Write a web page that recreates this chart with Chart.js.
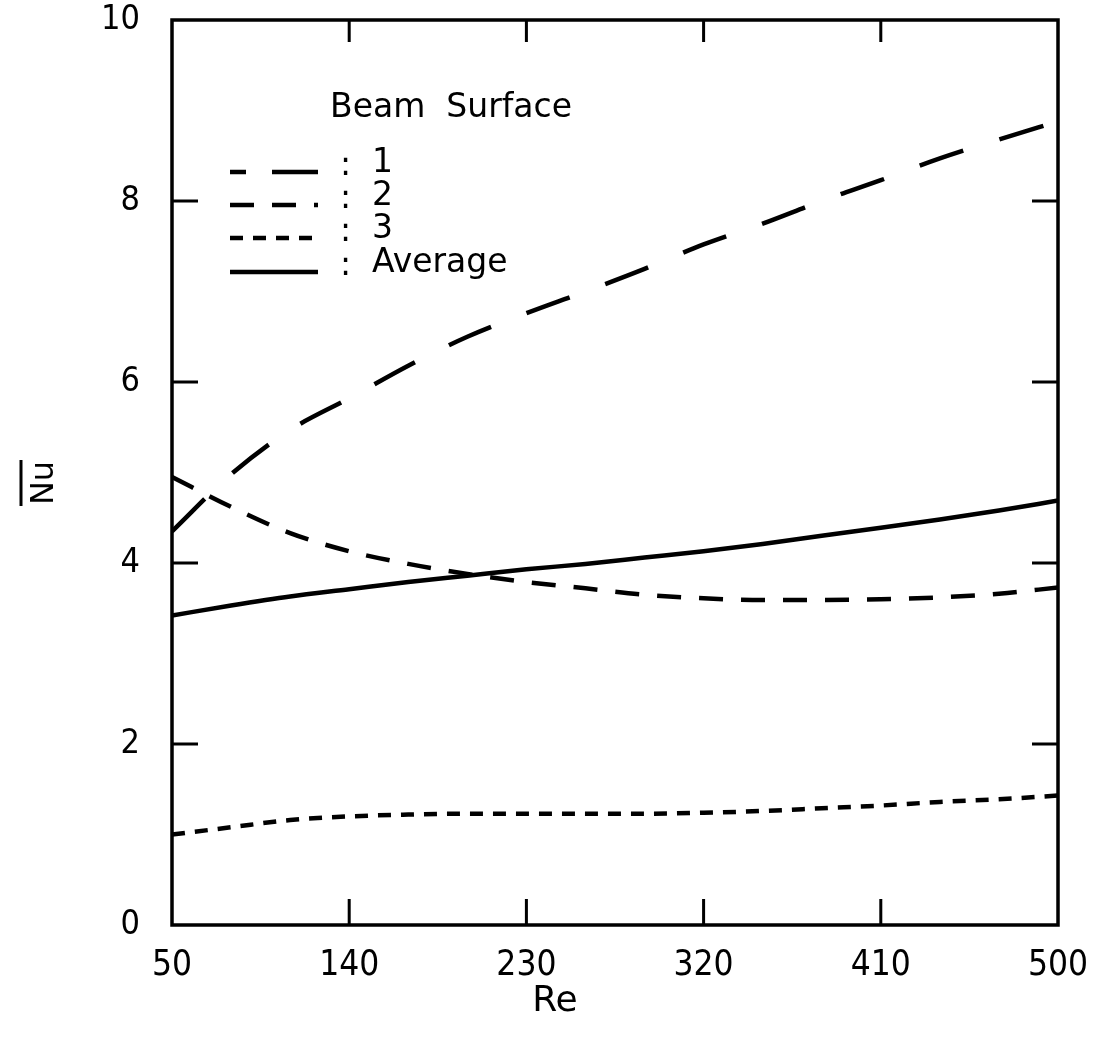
<!DOCTYPE html>
<html>
<head>
<meta charset="utf-8">
<title>Nu vs Re</title>
<script src="https://cdn.jsdelivr.net/npm/chart.js@4.4.0/dist/chart.umd.min.js"></script>
<style>
  html, body { margin: 0; padding: 0; background: #fff; }
  #wrap { width: 1111px; height: 1047px; }
</style>
</head>
<body>
<div id="wrap"><canvas id="nuChart" width="1111" height="1047"></canvas></div>
<script>
// Reynolds numbers where the curves were sampled
const re = [50, 80, 110, 140, 170, 200, 230, 260, 290, 320, 350, 380, 410, 440, 470, 500];

// mean Nusselt number on each beam surface
const nuSurface1 = [4.35, 4.98, 5.47, 5.82, 6.18, 6.5, 6.76, 7.0, 7.25, 7.52, 7.75, 8.0, 8.23, 8.47, 8.68, 8.88];
const nuSurface2 = [4.95, 4.62, 4.33, 4.13, 3.99, 3.88, 3.79, 3.72, 3.65, 3.61, 3.59, 3.59, 3.6, 3.62, 3.66, 3.73];
const nuSurface3 = [1.0, 1.08, 1.16, 1.2, 1.22, 1.23, 1.23, 1.23, 1.23, 1.24, 1.26, 1.29, 1.32, 1.36, 1.39, 1.43];
const nuAverage  = [3.42, 3.53, 3.63, 3.71, 3.79, 3.86, 3.93, 3.99, 4.06, 4.13, 4.21, 4.3, 4.39, 4.48, 4.58, 4.69];

const reTicks = [50, 140, 230, 320, 410, 500];
const nuTicks = [0, 2, 4, 6, 8, 10];

const legendLabels = ["1", "2", "3", "Average"];
const dashes = [[46, 38], [24, 18], [13, 10], []];

const tickFamily = "'DejaVu Sans Condensed', 'DejaVu Sans', sans-serif";
const textFont = "33px 'DejaVu Sans', sans-serif";

function pts(arr) {
  return re.map((x, i) => ({ x: x, y: arr[i] }));
}

function lineSet(label, arr, dash) {
  return {
    label: label,
    data: pts(arr),
    borderColor: "#000",
    borderWidth: 4.5,
    borderDash: dash,
    pointRadius: 0,
    cubicInterpolationMode: "monotone",
    fill: false
  };
}

// keep the plot box fixed no matter how far the end labels stick out
function fixPadding(s) {
  s.paddingTop = 0;
  s.paddingBottom = 0;
  s.paddingLeft = 0;
  s.paddingRight = 0;
}

// frame, inward ticks, legend and axis titles
const decor = {
  id: "decor",
  afterDatasetsDraw(chart) {
    const ctx = chart.ctx;
    const a = chart.chartArea;
    const xs = chart.scales.x;
    const ys = chart.scales.y;
    ctx.save();
    ctx.strokeStyle = "#000";
    ctx.fillStyle = "#000";
    ctx.lineCap = "butt";

    // box
    ctx.lineWidth = 3.5;
    ctx.setLineDash([]);
    ctx.strokeRect(a.left, a.top, a.right - a.left, a.bottom - a.top);

    // ticks pointing into the plot
    ctx.lineWidth = 3;
    ctx.beginPath();
    reTicks.slice(1, -1).forEach(v => {
      const px = xs.getPixelForValue(v);
      ctx.moveTo(px, a.bottom); ctx.lineTo(px, a.bottom - 26);
      ctx.moveTo(px, a.top); ctx.lineTo(px, a.top + 22);
    });
    nuTicks.slice(1, -1).forEach(v => {
      const py = ys.getPixelForValue(v);
      ctx.moveTo(a.left, py); ctx.lineTo(a.left + 26, py);
      ctx.moveTo(a.right, py); ctx.lineTo(a.right - 26, py);
    });
    ctx.stroke();

    // legend
    ctx.font = textFont;
    ctx.textBaseline = "middle";
    ctx.textAlign = "left";
    ctx.fillText("Beam  Surface", 330, 108);
    const rowY = [172, 205, 238, 272];
    legendLabels.forEach((lab, i) => {
      ctx.lineWidth = 4.5;
      ctx.setLineDash(i === 0 ? [16, 26, 50, 10] : dashes[i]);
      ctx.beginPath();
      ctx.moveTo(230, rowY[i]);
      ctx.lineTo(318, rowY[i]);
      ctx.stroke();
      ctx.setLineDash([]);
      ctx.fillText(":", 340, rowY[i] - 6);
      ctx.fillText(lab, 372, rowY[i] - 9);
    });

    // x title
    ctx.font = "36px 'DejaVu Sans', sans-serif";
    ctx.textAlign = "center";
    ctx.fillText("Re", 555, 1002);

    // y title, rotated, with overbar
    ctx.font = "32px 'DejaVu Sans', sans-serif";
    ctx.translate(45, 483);
    ctx.rotate(-Math.PI / 2);
    ctx.fillText("Nu", 0, 0);
    ctx.lineWidth = 3;
    ctx.beginPath();
    ctx.moveTo(-23, -24);
    ctx.lineTo(23, -24);
    ctx.stroke();
    ctx.restore();
  }
};

new Chart(document.getElementById("nuChart"), {
  type: "line",
  data: {
    datasets: [
      lineSet("1", nuSurface1, dashes[0]),
      lineSet("2", nuSurface2, dashes[1]),
      lineSet("3", nuSurface3, dashes[2]),
      lineSet("Average", nuAverage, dashes[3])
    ]
  },
  options: {
    responsive: false,
    animation: false,
    layout: { padding: { left: 0, top: 20, right: 53, bottom: 0 } },
    plugins: {
      legend: { display: false },
      tooltip: { enabled: false }
    },
    scales: {
      x: {
        type: "linear",
        min: 50,
        max: 500,
        afterBuildTicks: s => { s.ticks = reTicks.map(v => ({ value: v })); },
        afterFit: s => { s.height = 122; fixPadding(s); },
        grid: { display: false, drawTicks: false },
        border: { display: false },
        ticks: { color: "#000", font: { family: tickFamily, size: 35 }, padding: 20, maxRotation: 0 }
      },
      y: {
        type: "linear",
        min: 0,
        max: 10,
        afterBuildTicks: s => { s.ticks = nuTicks.map(v => ({ value: v })); },
        afterFit: s => { s.width = 172; fixPadding(s); },
        grid: { display: false, drawTicks: false },
        border: { display: false },
        ticks: { color: "#000", font: { family: tickFamily, size: 34 }, padding: 32 }
      }
    }
  },
  plugins: [decor]
});
</script>
</body>
</html>
